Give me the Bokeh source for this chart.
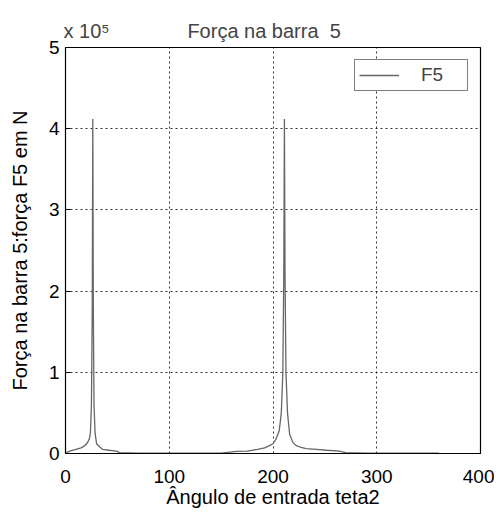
from bokeh.plotting import figure
from bokeh.models import Legend, LegendItem, CustomJSTickFormatter, FixedTicker, Title
from bokeh.embed import file_html
from bokeh.resources import INLINE

# angle (degrees)
teta2 = [0, 4, 10, 15, 18, 21, 23, 24, 25, 25.8, 26.3, 26.8, 27.5, 28.5, 30, 33, 36, 42, 49, 52,
         70, 100, 130, 150, 165, 175, 185, 192, 197, 200, 203, 206, 208, 209.5, 210.4, 211, 211.6,
         212.5, 214, 216, 219, 222, 226, 232, 242, 252, 264, 270, 290, 320, 340, 360]
# force F5 in N
F5 = [0.005e5, 0.03e5, 0.05e5, 0.07e5, 0.09e5, 0.13e5, 0.18e5, 0.25e5, 0.6e5, 1.8e5, 4.12e5, 1.8e5, 0.6e5, 0.25e5, 0.12e5, 0.08e5, 0.05e5, 0.04e5, 0.03e5, 0.01e5,
      0.005e5, 0.003e5, 0.003e5, 0.005e5, 0.025e5, 0.03e5, 0.05e5, 0.07e5, 0.1e5, 0.12e5, 0.18e5, 0.28e5, 0.5e5, 1.0e5, 2.2e5, 4.12e5, 2.2e5,
      1.0e5, 0.5e5, 0.24e5, 0.14e5, 0.1e5, 0.08e5, 0.06e5, 0.05e5, 0.04e5, 0.03e5, 0.01e5, 0.005e5, 0.004e5, 0.004e5, 0.003e5]

x_ticks = [0, 100, 200, 300, 400]
y_ticks = [0, 1e5, 2e5, 3e5, 4e5, 5e5]

FONT = "Liberation Sans"

p = figure(width=494, height=515, x_range=(0, 400), y_range=(0, 5e5),
           output_backend="svg", toolbar_location=None,
           min_border_left=65, min_border_right=14, min_border_top=47, min_border_bottom=62)

r = p.line(teta2, F5, line_color="#666666", line_width=1.3)

p.xaxis.ticker = FixedTicker(ticks=x_ticks)
p.yaxis.ticker = FixedTicker(ticks=y_ticks)
p.yaxis.formatter = CustomJSTickFormatter(code="return (tick/1e5).toFixed(0);")

for ax in (p.xaxis[0], p.yaxis[0]):
    ax.major_tick_in = 5
    ax.major_tick_out = 0
    ax.minor_tick_in = 0
    ax.minor_tick_out = 0
    ax.axis_line_color = "black"
    ax.major_tick_line_color = "black"
    ax.major_label_text_font = FONT
    ax.major_label_text_font_size = "19px"
    ax.major_label_text_color = "black"
    ax.axis_label_text_font = FONT
    ax.axis_label_text_font_size = "20px"
    ax.axis_label_text_font_style = "normal"
    ax.axis_label_text_color = "black"

p.xaxis.axis_label = "Ângulo de entrada teta2"
p.yaxis.axis_label = "Força na barra 5:força F5 em N"
# push the x tick labels further down: invisible outward ticks
p.xaxis.major_tick_line_color = None
p.xaxis.major_tick_in = 0
p.xaxis.major_tick_out = 10
p.xaxis.major_label_standoff = 6
p.xaxis.axis_label_standoff = 0
p.yaxis.major_label_standoff = 6
p.yaxis.axis_label_standoff = 15

p.grid.grid_line_color = "black"
p.grid.grid_line_dash = "2 3"
p.grid.grid_line_alpha = 0.8

p.outline_line_color = "black"
p.outline_line_width = 1.2

NB = "\u00a0"
p.title = None
p.add_layout(Title(text="x 10\u2075" + NB * 14 + "Força na barra " + NB + "5", text_font=FONT,
                   text_font_size="20px", text_font_style="normal", align="left",
                   offset=-2, standoff=12), "above")

legend = Legend(items=[LegendItem(label="F5", renderers=[r])], location="top_right",
                label_text_font=FONT, label_text_font_size="19px",
                border_line_color="black", border_line_width=1,
                glyph_width=40, label_width=42, margin=12, padding=4, spacing=0,
                label_standoff=22, background_fill_alpha=1)
p.add_layout(legend)

open("out.html", "w").write(file_html(p, INLINE))
